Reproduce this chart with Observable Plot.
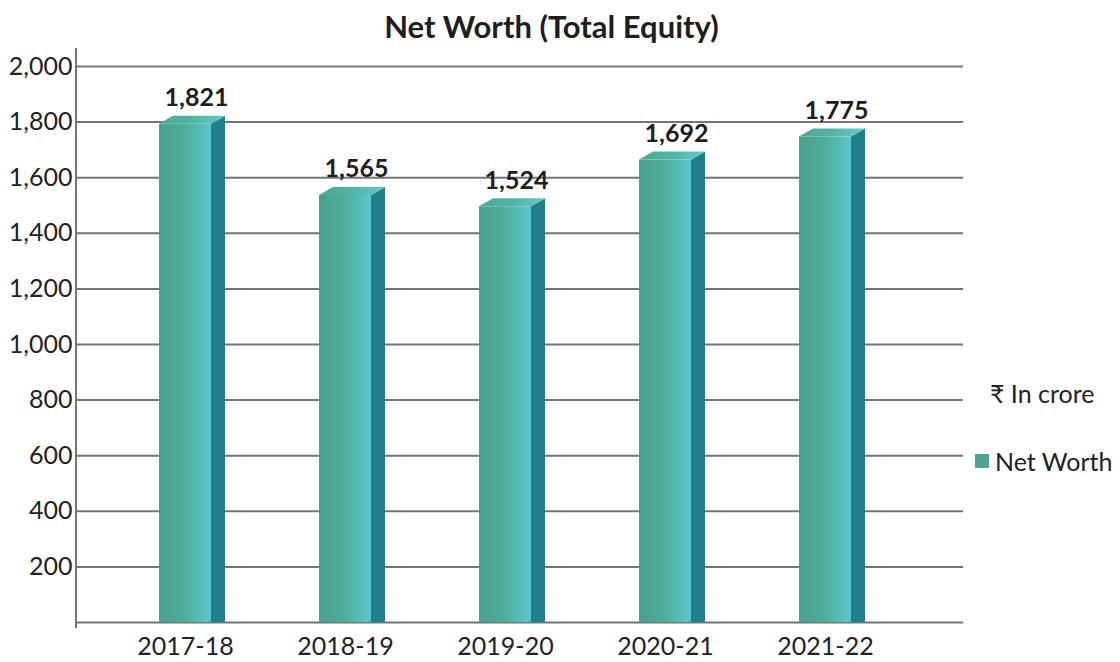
<!DOCTYPE html>
<html>
<head>
<meta charset="utf-8">
<script src="https://cdn.jsdelivr.net/npm/d3@7"></script>
<script src="https://cdn.jsdelivr.net/npm/@observablehq/plot@0.6"></script>
<style>
  body { margin: 0; background: #fff; font-family: Lato, "Open Sans", sans-serif; }
  #wrap { position: relative; width: 1120px; height: 662px; overflow: hidden; }
  #title { position: absolute; left: 0; width: 1103px; top: 9px; line-height: 34px; text-align: center;
           font-weight: bold; font-size: 31px; color: #1e1e1e; }
  .leg { position: absolute; font-size: 25px; color: #222; line-height: 30px; white-space: nowrap; }
  #unit { left: 990px; top: 378px; }
  #series { left: 975px; top: 446px; display: flex; align-items: center; }
  #series .sw { width: 14px; height: 14px; background: #4ca593; margin-right: 6px; }
</style>
</head>
<body>
<div id="wrap">
  <div id="chart"></div>
  <div id="title">Net Worth (Total Equity)</div>
  <div class="leg" id="unit">₹ In crore</div>
  <div class="leg" id="series"><span class="sw"></span><span>Net Worth</span></div>
</div>
<script>
const years = ["2017-18", "2018-19", "2019-20", "2020-21", "2021-22"];
const netWorth = [1821, 1565, 1524, 1692, 1775];
const yTicks = [200, 400, 600, 800, 1000, 1200, 1400, 1600, 1800, 2000];

const data = years.map((year, i) => ({ year, value: netWorth[i] }));
const fmt = d3.format(",");
const gridColor = "#747474";

function bars3d(index, scales) {
  const { x, y } = scales;
  const g = d3.create("svg:g");
  const defs = g.append("defs");
  const front = defs.append("linearGradient").attr("id", "nwFront").attr("x1", 0).attr("x2", 1).attr("y1", 0).attr("y2", 0);
  front.append("stop").attr("offset", "0").attr("stop-color", "#48a08d");
  front.append("stop").attr("offset", "0.45").attr("stop-color", "#4faa98");
  front.append("stop").attr("offset", "1").attr("stop-color", "#5ac6cf");
  const top = defs.append("linearGradient").attr("id", "nwTop").attr("x1", 0).attr("x2", 1).attr("y1", 0).attr("y2", 0);
  top.append("stop").attr("offset", "0").attr("stop-color", "#4ea894");
  top.append("stop").attr("offset", "0.5").attr("stop-color", "#53b3a3");
  top.append("stop").attr("offset", "1").attr("stop-color", "#62cbcd");
  const bw = 52, dxs = 14, dys = 8, drop = 8;
  const half = x.bandwidth ? x.bandwidth() / 2 : 0;
  const y0 = y(0);
  data.forEach(d => {
    const cx = x(d.year) + half;
    const l = cx - bw / 2, r = cx + bw / 2;
    const ft = y(d.value) + drop;
    g.append("polygon")
      .attr("points", [[r, ft], [r + dxs, ft - dys], [r + dxs, y0], [r, y0]].join(" "))
      .attr("fill", "#207f8a");
    g.append("polygon")
      .attr("points", [[l, ft], [l + dxs, ft - dys], [r + dxs, ft - dys], [r, ft]].join(" "))
      .attr("fill", "url(#nwTop)");
    g.append("rect")
      .attr("x", l).attr("y", ft).attr("width", bw).attr("height", y0 - ft)
      .attr("fill", "url(#nwFront)");
  });
  return g.node();
}

function yAxisLine(index, scales, values, dims) {
  const g = d3.create("svg:g");
  g.append("line")
    .attr("x1", dims.marginLeft).attr("x2", dims.marginLeft)
    .attr("y1", dims.marginTop).attr("y2", dims.height - dims.marginBottom)
    .attr("stroke", gridColor).attr("stroke-width", 2);
  return g.node();
}

const chart = Plot.plot({
  width: 1120,
  height: 662,
  marginLeft: 76,
  marginRight: 157,
  marginTop: 48,
  marginBottom: 34,
  style: { fontFamily: "Lato, 'Open Sans', sans-serif", fontSize: "25px", color: "#222", background: "transparent" },
  x: { type: "band", domain: years, range: [104, 906], padding: 0, label: null, tickSize: 0, tickPadding: 9 },
  y: { domain: [0, 2000], range: [622, 66], ticks: yTicks, tickFormat: fmt, tickSize: 0, tickPadding: 4, label: null },
  marks: [
    Plot.ruleY(yTicks, { stroke: gridColor, strokeWidth: 2 }),
    Plot.ruleY([0], { stroke: gridColor, strokeWidth: 2 }),
    bars3d,
    Plot.text(data, { x: "year", y: "value", text: d => fmt(d.value), dy: -18, dx: 11,
                      fontWeight: "bold", fontSize: 25, fill: "#1e1e1e" }),
    yAxisLine
  ]
});
document.getElementById("chart").appendChild(chart);
</script>
</body>
</html>
